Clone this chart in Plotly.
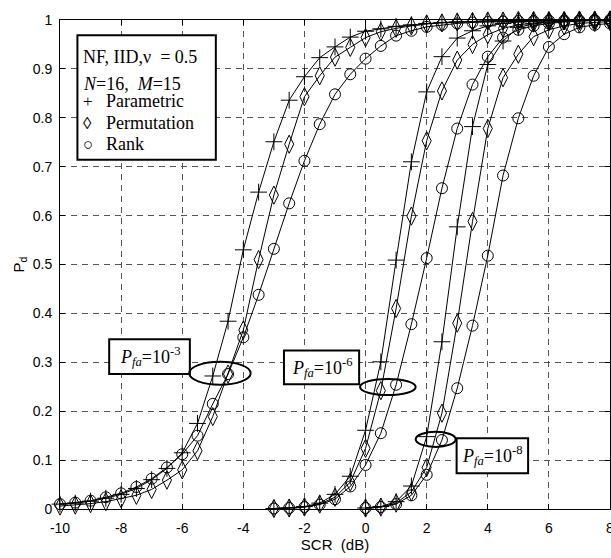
import plotly.graph_objects as go

# ---------------- data ----------------
scr_g1 = [-10, -9.5, -9, -8.5, -8, -7.5, -7, -6.5, -6, -5.5, -5, -4.5, -4, -3.5, -3, -2.5, -2, -1.5, -1, -0.5,
          0, 0.5, 1, 1.5, 2, 2.5, 3, 3.5, 4, 4.5, 5, 5.5, 6, 6.5, 7, 7.5, 8]
g1_param = [0.010, 0.012, 0.016, 0.022, 0.030, 0.042, 0.060, 0.083, 0.115, 0.175, 0.272, 0.384, 0.530, 0.648,
            0.751, 0.836, 0.884, 0.923, 0.945, 0.965, 0.977, 0.982, 0.987, 0.990, 0.993, 0.995, 0.996, 0.997,
            0.998, 0.998, 0.999, 0.999, 0.999, 0.999, 1.0, 1.0, 1.0]
g1_perm = [0.006, 0.008, 0.011, 0.015, 0.021, 0.028, 0.040, 0.059, 0.080, 0.119, 0.189, 0.276, 0.366, 0.510,
           0.642, 0.746, 0.843, 0.886, 0.924, 0.944, 0.964, 0.976, 0.983, 0.988, 0.992, 0.994, 0.996, 0.997,
           0.998, 0.998, 0.999, 0.999, 0.999, 0.999, 1.0, 1.0, 1.0]
g1_rank = [0.010, 0.013, 0.017, 0.024, 0.032, 0.045, 0.062, 0.085, 0.112, 0.150, 0.215, 0.276, 0.351, 0.438,
           0.532, 0.625, 0.712, 0.787, 0.848, 0.889, 0.921, 0.947, 0.968, 0.978, 0.986, 0.990, 0.993, 0.995,
           0.996, 0.997, 0.998, 0.998, 0.999, 0.999, 0.999, 1.0, 1.0]

scr_g2 = [-3, -2.5, -2, -1.5, -1, -0.5, 0, 0.5, 1, 1.5, 2, 2.5, 3, 3.5, 4, 4.5, 5, 5.5, 6, 6.5, 7, 7.5, 8]
g2_param = [0.001, 0.002, 0.005, 0.012, 0.030, 0.067, 0.161, 0.301, 0.509, 0.710, 0.853, 0.925, 0.963, 0.978,
            0.988, 0.993, 0.996, 0.998, 0.999, 0.999, 1.0, 1.0, 1.0]
g2_perm = [0.001, 0.002, 0.004, 0.010, 0.024, 0.055, 0.124, 0.242, 0.410, 0.599, 0.753, 0.855, 0.918, 0.950,
           0.970, 0.983, 0.990, 0.994, 0.996, 0.998, 0.999, 0.999, 1.0]
g2_rank = [0.001, 0.002, 0.004, 0.009, 0.020, 0.046, 0.090, 0.155, 0.254, 0.378, 0.513, 0.656, 0.778, 0.868,
           0.925, 0.964, 0.980, 0.988, 0.993, 0.996, 0.998, 0.999, 0.999]

scr_g3 = [0, 0.5, 1, 1.5, 2, 2.5, 3, 3.5, 4, 4.5, 5, 5.5, 6, 6.5, 7, 7.5, 8]
g3_param = [0.002, 0.005, 0.015, 0.047, 0.148, 0.342, 0.577, 0.782, 0.909, 0.957, 0.985, 0.992, 0.996, 0.998,
            0.999, 0.999, 1.0]
g3_perm = [0.002, 0.004, 0.012, 0.035, 0.085, 0.196, 0.380, 0.588, 0.778, 0.882, 0.930, 0.966, 0.980, 0.988,
           0.993, 0.995, 0.997]
g3_rank = [0.002, 0.004, 0.010, 0.028, 0.070, 0.141, 0.247, 0.375, 0.518, 0.682, 0.799, 0.886, 0.945, 0.971,
           0.985, 0.990, 0.993]

x_ticks = [-10, -8, -6, -4, -2, 0, 2, 4, 6, 8]
y_ticks = [0, 0.1, 0.2, 0.3, 0.4, 0.5, 0.6, 0.7, 0.8, 0.9, 1]
y_tick_labels = ["0", "0.1", "0.2", "0.3", "0.4", "0.5", "0.6", "0.7", "0.8", "0.9", "1"]

legend_lines = ["NF, IID,\u03bd  = 0.5", "<i>N</i>=16,  <i>M</i>=15"]
method_symbols = ["+", "\u25ca", "\u25cb"]
method_names = ["Parametric", "Permutation", "Rank"]
pfa_labels = ["<i>P<sub>fa</sub></i>=10<sup>-3</sup>",
              "<i>P<sub>fa</sub></i>=10<sup>-6</sup>",
              "<i>P<sub>fa</sub></i>=10<sup>-8</sup>"]

# ---------------- figure ----------------
fig = go.Figure()

marker_styles = {
    "param": dict(symbol="cross-thin-open", size=12, color="black", line=dict(width=1, color="black")),
    "perm": dict(symbol="diamond-tall-open", size=13, color="black", line=dict(width=1, color="black")),
    "rank": dict(symbol="circle-open", size=11, color="black", line=dict(width=1, color="black")),
}

groups = [
    (scr_g1, g1_param, g1_perm, g1_rank),
    (scr_g2, g2_param, g2_perm, g2_rank),
    (scr_g3, g3_param, g3_perm, g3_rank),
]
for xs, p, pm, r in groups:
    for ys, key in ((p, "param"), (pm, "perm"), (r, "rank")):
        fig.add_trace(go.Scatter(
            x=xs, y=ys, mode="lines+markers",
            line=dict(color="black", width=1),
            marker=marker_styles[key],
            showlegend=False, hoverinfo="skip", cliponaxis=False,
        ))

serif = "Liberation Serif, Times New Roman, serif"

shapes = []
annotations = []

# legend box
shapes.append(dict(type="rect", xref="x", yref="y", x0=-9.43, x1=-4.90, y0=0.714, y1=0.969,
                   line=dict(color="black", width=2), fillcolor="white", layer="above"))
leg_y = [0.924, 0.869, 0.834, 0.789, 0.746]
for i, t in enumerate(legend_lines):
    annotations.append(dict(x=-9.30, y=leg_y[i], xref="x", yref="y", text=t, showarrow=False,
                            xanchor="left", yanchor="middle", font=dict(family=serif, size=18, color="black")))
for i, (s, n) in enumerate(zip(method_symbols, method_names)):
    annotations.append(dict(x=-9.10, y=leg_y[i + 2], xref="x", yref="y", text=s, showarrow=False,
                            xanchor="center", yanchor="middle", font=dict(family=serif, size=17, color="black")))
    annotations.append(dict(x=-8.55, y=leg_y[i + 2], xref="x", yref="y", text=n, showarrow=False,
                            xanchor="left", yanchor="middle", font=dict(family=serif, size=18, color="black")))

# Pfa boxes and ellipses
boxes = [(-8.39, -5.75, 0.276, 0.347), (-2.67, -0.21, 0.255, 0.324), (2.98, 5.32, 0.073, 0.1446)]
ellipses = [(-5.77, -3.76, 0.254, 0.301), (-0.18, 1.64, 0.233, 0.266), (1.64, 2.95, 0.127, 0.158)]
for (x0, x1, y0, y1), lab in zip(boxes, pfa_labels):
    shapes.append(dict(type="rect", xref="x", yref="y", x0=x0, x1=x1, y0=y0, y1=y1,
                       line=dict(color="black", width=2), fillcolor="white", layer="above"))
    annotations.append(dict(x=(x0 + x1) / 2, y=(y0 + y1) / 2, xref="x", yref="y", text=lab, showarrow=False,
                            xanchor="center", yanchor="middle", font=dict(family=serif, size=18, color="black")))
for x0, x1, y0, y1 in ellipses:
    shapes.append(dict(type="circle", xref="x", yref="y", x0=x0, x1=x1, y0=y0, y1=y1,
                       line=dict(color="black", width=2), layer="above"))

axis_font = dict(family="Liberation Sans, Arial, sans-serif", size=14, color="black")
title_font = dict(family="Liberation Sans, Arial, sans-serif", size=15, color="black")

fig.update_layout(
    width=611, height=558,
    margin=dict(l=60, r=1, t=20, b=49, autoexpand=False),
    paper_bgcolor="white", plot_bgcolor="white",
    shapes=shapes, annotations=annotations,
    font=axis_font,
    xaxis=dict(range=[-10, 8], tickvals=x_ticks, ticktext=[str(v) for v in x_ticks],
               showgrid=True, gridcolor="#555555", griddash="6px,5px", gridwidth=1,
               showline=True, linecolor="black", linewidth=1, mirror="ticks",
               ticks="inside", ticklen=5, tickcolor="black", zeroline=False, automargin=False,
               ticklabeloverflow="allow", ticklabelstandoff=6,
               title=dict(text="SCR  (dB)", font=title_font, standoff=2),
               tickfont=axis_font),
    yaxis=dict(range=[0, 1], tickvals=y_ticks, ticktext=y_tick_labels,
               showgrid=True, gridcolor="#555555", griddash="6px,5px", gridwidth=1,
               showline=True, linecolor="black", linewidth=1, mirror="ticks",
               ticks="inside", ticklen=5, tickcolor="black", zeroline=False, automargin=False,
               ticklabeloverflow="allow", ticklabelstandoff=4,
               title=dict(text="P<sub>d</sub>", font=title_font, standoff=4),
               tickfont=axis_font),
)

fig.write_html("out.html",
               config={"displayModeBar": False},
               post_script="document.body.style.margin='0';document.body.style.padding='0';"
                           "document.body.style.overflow='hidden';")
